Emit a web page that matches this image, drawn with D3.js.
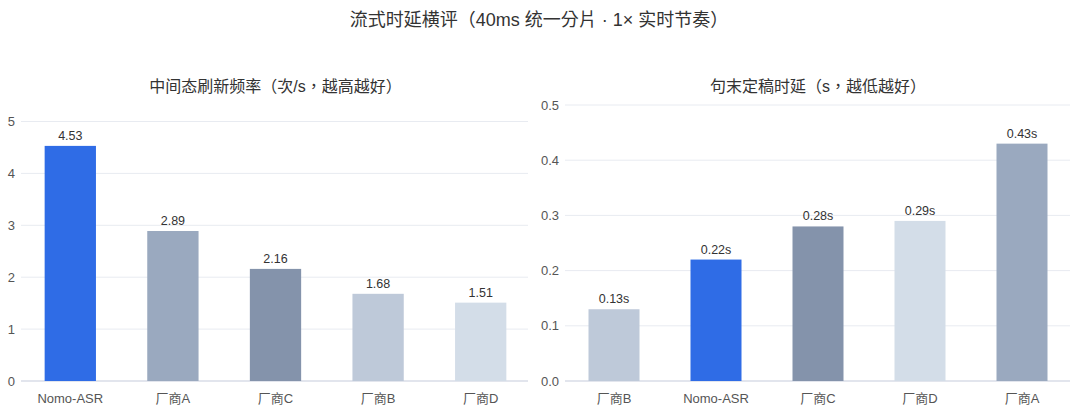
<!DOCTYPE html>
<html><head><meta charset="utf-8">
<script src="https://cdn.jsdelivr.net/npm/d3@7"></script>
<style>
html,body{margin:0;padding:0;background:#fff;}
svg{display:block;font-family:"Liberation Sans","Noto Sans CJK TC",sans-serif;}
</style></head>
<body>
<svg id="c" width="1080" height="409"></svg>
<script>
const mainTitle = "流式时延横评（40ms 统一分片 · 1× 实时节奏）";
const title1 = "中间态刷新频率（次/s，越高越好）";
const cats1 = ["Nomo-ASR","厂商A","厂商C","厂商B","厂商D"];
const vals1 = [4.53,2.89,2.16,1.68,1.51];
const ticks1 = [0,1,2,3,4,5];
const title2 = "句末定稿时延（s，越低越好）";
const cats2 = ["厂商B","Nomo-ASR","厂商C","厂商D","厂商A"];
const vals2 = [0.13,0.22,0.28,0.29,0.43];
const ticks2 = [0,0.1,0.2,0.3,0.4,0.5];
const vendorColors = {"Nomo-ASR":"#2F6CE6","厂商A":"#9AA9BF","厂商C":"#8493AB","厂商B":"#BEC9D9","厂商D":"#D3DDE8"};

const svg = d3.select("#c");
svg.append("text").attr("x",539).attr("y",20).attr("text-anchor","middle")
  .attr("dominant-baseline","central").attr("font-size",18).attr("fill","#333").text(mainTitle);

function panel(cfg){
  const g = svg.append("g");
  const x = d3.scaleBand().domain(cfg.cats).range(cfg.xr).padding(0);
  const y = d3.scaleLinear().domain(cfg.yd).range(cfg.yr);
  g.append("text").attr("x",(cfg.xr[0]+cfg.xr[1])/2).attr("y",86).attr("text-anchor","middle")
    .attr("dominant-baseline","central").attr("font-size",16).attr("fill","#333").text(cfg.title);
  g.selectAll(".grid").data(cfg.ticks).enter().append("line")
    .attr("x1",cfg.gx[0]).attr("x2",cfg.gx[1])
    .attr("y1",d=>y(d)).attr("y2",d=>y(d))
    .attr("stroke",d=>d===0?"#d8dde7":"#e8ebf1").attr("stroke-width",d=>d===0?1.5:1);
  g.selectAll(".tl").data(cfg.ticks).enter().append("text")
    .attr("x",cfg.gx[0]-6).attr("y",d=>y(d)).attr("text-anchor","end")
    .attr("dominant-baseline","central").attr("font-size",13).attr("fill","#555")
    .text(cfg.fmt);
  const bw = x.bandwidth()*0.5;
  g.selectAll(".bar").data(cfg.vals).enter().append("rect")
    .attr("x",(d,i)=>x(cfg.cats[i])+x.bandwidth()/2-bw/2)
    .attr("width",bw)
    .attr("y",d=>y(d)).attr("height",d=>y(0)-y(d))
    .attr("fill",(d,i)=>vendorColors[cfg.cats[i]]);
  g.selectAll(".vl").data(cfg.vals).enter().append("text")
    .attr("x",(d,i)=>x(cfg.cats[i])+x.bandwidth()/2)
    .attr("y",d=>y(d)-6).attr("text-anchor","middle")
    .attr("font-size",12.5).attr("fill","#333").text(cfg.vfmt);
  g.selectAll(".xl").data(cfg.cats).enter().append("text")
    .attr("x",d=>x(d)+x.bandwidth()/2).attr("y",403).attr("text-anchor","middle")
    .attr("font-size",13).attr("fill","#555").text(d=>d);
}

panel({title:title1,cats:cats1,vals:vals1,ticks:ticks1,xr:[19,532],gx:[21,528],yd:[0,5],yr:[381,121.5],
  fmt:d=>d3.format("d")(d), vfmt:d=>d3.format(".2f")(d)});
panel({title:title2,cats:cats2,vals:vals2,ticks:ticks2,xr:[563,1073],gx:[565,1070],yd:[0,0.5],yr:[381,105],
  fmt:d=>d3.format(".1f")(d), vfmt:d=>d3.format(".2f")(d)+"s"});
</script>
</body></html>
